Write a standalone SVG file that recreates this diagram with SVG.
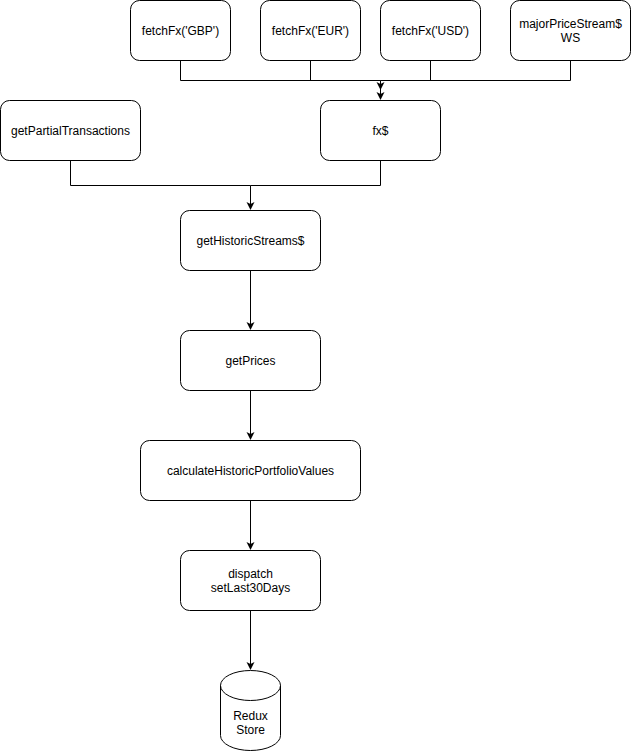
<svg xmlns="http://www.w3.org/2000/svg" width="631" height="751" viewBox="0 0 631 751">
<style>
.n{fill:#fff;stroke:#000;stroke-width:1}
.t{font-family:"Liberation Sans",Arial,sans-serif;font-size:12px;fill:#000;text-anchor:middle}
.e{fill:none;stroke:#000;stroke-width:1}
</style>
<defs>
<marker id="a" markerWidth="10" markerHeight="10" refX="7" refY="4" orient="auto" markerUnits="userSpaceOnUse" viewBox="0 0 10 8">
<path d="M0,0 L8,4 L0,8 L2,4 Z" fill="#000"/>
</marker>
</defs>
<rect width="631" height="751" fill="#fff"/>
<g id="connectors">
<path class="e" d="M180.5,60.5 V80.5 H380.5 V99" marker-end="url(#a)"/>
<path class="e" d="M310.5,60.5 V80.5"/>
<path class="e" d="M430.5,60.5 V80.5"/>
<path class="e" d="M570.5,60.5 V80.5 H380.5 V89" marker-end="url(#a)"/>
<path class="e" d="M70.5,160.5 V185.5 H250.5 V209" marker-end="url(#a)"/>
<path class="e" d="M380.5,160.5 V185.5 H250.5"/>
<path class="e" d="M250.5,270.5 V329" marker-end="url(#a)"/>
<path class="e" d="M250.5,390.5 V439" marker-end="url(#a)"/>
<path class="e" d="M250.5,500.5 V549" marker-end="url(#a)"/>
<path class="e" d="M250.5,610.5 V669" marker-end="url(#a)"/>
</g>
<g id="gbp"><rect class="n" x="130.5" y="0.5" width="100" height="60" rx="9"/><text class="t" x="180.5" y="35">fetchFx('GBP')</text></g>
<g id="eur"><rect class="n" x="260.5" y="0.5" width="100" height="60" rx="9"/><text class="t" x="310.5" y="35">fetchFx('EUR')</text></g>
<g id="usd"><rect class="n" x="380.5" y="0.5" width="100" height="60" rx="9"/><text class="t" x="430.5" y="35">fetchFx('USD')</text></g>
<g id="major"><rect class="n" x="510.5" y="0.5" width="120" height="60" rx="9"/><text class="t" x="570.5" y="28">majorPriceStream$</text><text class="t" x="570.5" y="42">WS</text></g>
<g id="partial"><rect class="n" x="0.5" y="100.5" width="140" height="60" rx="9"/><text class="t" x="70.5" y="135">getPartialTransactions</text></g>
<g id="fx"><rect class="n" x="320.5" y="100.5" width="120" height="60" rx="9"/><text class="t" x="380.5" y="135">fx$</text></g>
<g id="historic"><rect class="n" x="180.5" y="210.5" width="140" height="60" rx="9"/><text class="t" x="250.5" y="245">getHistoricStreams$</text></g>
<g id="prices"><rect class="n" x="180.5" y="330.5" width="140" height="60" rx="9"/><text class="t" x="250.5" y="365">getPrices</text></g>
<g id="calc"><rect class="n" x="140.5" y="440.5" width="220" height="60" rx="9"/><text class="t" x="250.5" y="475">calculateHistoricPortfolioValues</text></g>
<g id="dispatch"><rect class="n" x="180.5" y="550.5" width="140" height="60" rx="9"/><text class="t" x="250.5" y="578">dispatch</text><text class="t" x="250.5" y="592">setLast30Days</text></g>
<g id="store">
<path class="n" d="M220.5,685.5 A30,15 0 0 1 280.5,685.5 V735.5 A30,15 0 0 1 220.5,735.5 Z"/>
<path class="e" d="M220.5,685.5 A30,15 0 0 0 280.5,685.5"/>
<text class="t" x="250.5" y="720">Redux</text><text class="t" x="250.5" y="734">Store</text>
</g>
</svg>
